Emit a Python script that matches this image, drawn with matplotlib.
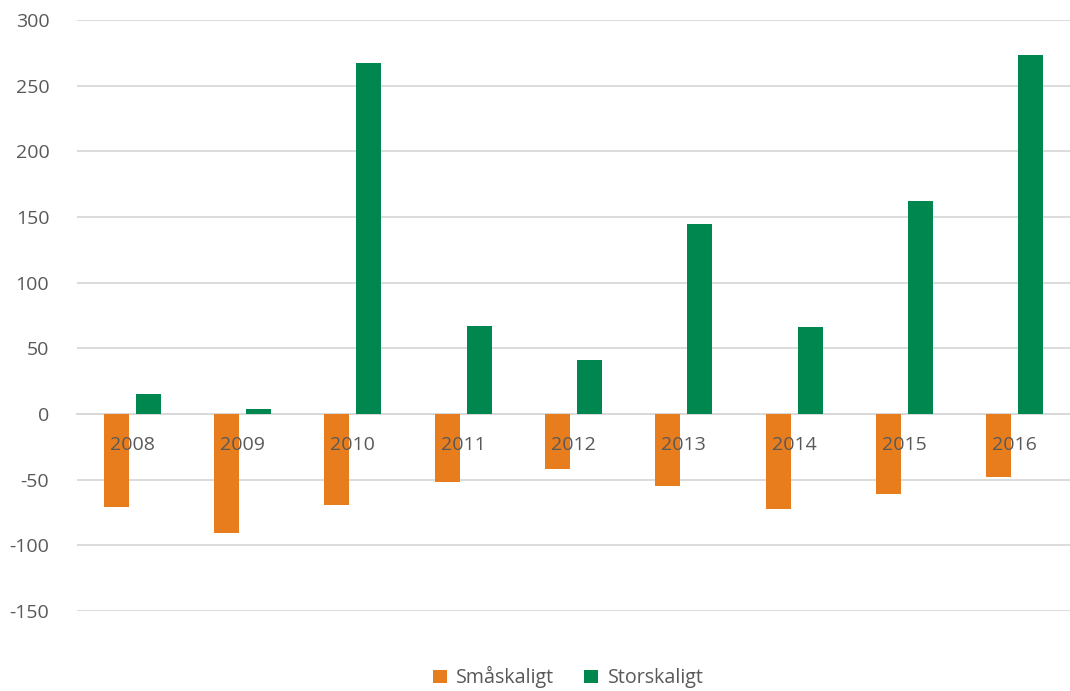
import matplotlib
matplotlib.use("Agg")
import matplotlib.pyplot as plt
import numpy as np

years = ["2008", "2009", "2010", "2011", "2012", "2013", "2014", "2015", "2016"]
smaskaligt = [-71, -91, -69, -52, -42, -55, -72, -61, -48]
storskaligt = [15, 4, 267, 67, 41, 145, 66, 162, 273]
yticks = [-150, -100, -50, 0, 50, 100, 150, 200, 250, 300]

plt.rcParams['font.family'] = ['Open Sans', 'DejaVu Sans']

fig = plt.figure(figsize=(10.7, 6.91), dpi=100)
ax = fig.add_axes([0.072, 0.1158, 0.928, 0.8553])

x = np.arange(len(years))
w = 0.227
off = 0.145
ax.bar(x - off, smaskaligt, width=w, color="#E87D1E", label="Småskaligt", zorder=3)
ax.bar(x + off, storskaligt, width=w, color="#00874F", label="Storskaligt", zorder=3)

ax.set_xlim(-0.5, len(years) - 0.5)
ax.set_ylim(-150, 300)
ax.set_yticks(yticks)
ax.set_yticklabels([str(v) for v in yticks])
ax.yaxis.grid(True, color="#D9D9D9", linewidth=1.3)
ax.yaxis.set_zorder(0.5)
ax.xaxis.set_zorder(5)

for s in ["top", "right", "left"]:
    ax.spines[s].set_visible(False)
ax.spines["bottom"].set_position(("data", 0))
ax.spines["bottom"].set_color("#D9D9D9")
ax.spines["bottom"].set_linewidth(1.3)
ax.spines["bottom"].set_zorder(2)

ax.set_xticks(x)
ax.set_xticklabels(years)
ax.tick_params(axis="x", length=0, pad=16, labelsize=14, labelcolor="#595959")
ax.tick_params(axis="y", length=0, pad=20, labelsize=14, labelcolor="#595959")

leg = fig.legend(loc="lower center", bbox_to_anchor=(0.531, -0.022), ncol=2, frameon=False,
                 fontsize=14.2, handlelength=0.7, handleheight=0.7, columnspacing=1.5,
                 handletextpad=0.5)
for t in leg.get_texts():
    t.set_color("#595959")

fig.savefig("out.png", dpi=100)
